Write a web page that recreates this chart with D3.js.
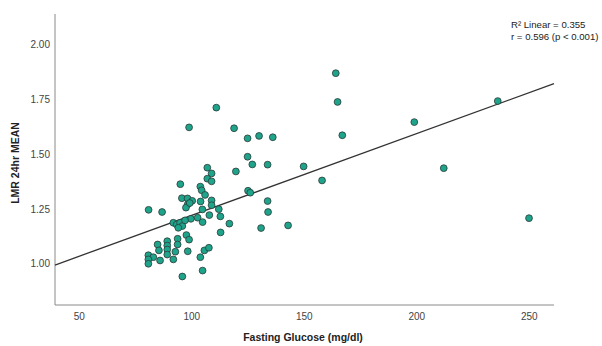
<!DOCTYPE html>
<html>
<head>
<meta charset="utf-8">
<script src="https://cdn.jsdelivr.net/npm/d3@7"></script>
<style>
  body { margin: 0; background: #fff; }
  text { font-family: "Liberation Sans", Arial, sans-serif; }
</style>
</head>
<body>
<div id="chart"></div>
<script>
// Fasting glucose (mg/dl) for each patient
const glucose = [
  110.9, 98.8, 118.8, 124.8, 129.9, 136.0, 124.8, 126.9, 133.7, 149.7,
  119.6, 106.9, 108.8, 106.9, 108.8, 94.9, 103.8, 104.4, 105.9, 125.0,
  126.0, 95.6, 98.1, 100.2, 103.9, 108.8, 98.2, 108.8, 97.4, 133.7,
  133.9, 112.0, 104.7, 80.8, 86.8, 107.8, 112.7, 99.6, 102.6, 104.8,
  116.7, 130.8, 142.8, 112.8, 97.6, 98.8, 98.2, 105.6, 107.6, 103.8,
  104.8, 95.8, 93.7, 93.7, 89.1, 89.1, 89.1, 89.1, 84.8, 85.4,
  92.7, 80.7, 82.9, 80.7, 80.7, 85.9, 91.8, 91.8, 93.3, 94.8,
  95.8, 94.0, 97.0, 164.0, 164.8, 166.9, 157.9, 198.9, 212.0, 236.0,
  249.9, 99.1
];

// LMR 24hr mean for the same patients
const lmr = [
  1.713, 1.623, 1.619, 1.573, 1.584, 1.578, 1.489, 1.454, 1.453, 1.445,
  1.422, 1.439, 1.413, 1.389, 1.377, 1.364, 1.353, 1.336, 1.315, 1.334,
  1.325, 1.300, 1.299, 1.288, 1.285, 1.290, 1.272, 1.268, 1.257, 1.287,
  1.237, 1.250, 1.249, 1.247, 1.237, 1.223, 1.217, 1.206, 1.211, 1.191,
  1.184, 1.164, 1.176, 1.144, 1.132, 1.111, 1.058, 1.062, 1.074, 1.031,
  0.970, 0.943, 1.115, 1.089, 1.104, 1.084, 1.066, 1.043, 1.089, 1.062,
  1.056, 1.040, 1.031, 1.021, 1.001, 1.016, 1.021, 1.188, 1.180, 1.188,
  1.173, 1.165, 1.199, 1.870, 1.739, 1.587, 1.381, 1.647, 1.437, 1.743,
  1.209, 1.278
];

// Axis ticks and the fitted line
const xTicks = [50, 100, 150, 200, 250];
const yTicks = [1.00, 1.25, 1.50, 1.75, 2.00];
const regIntercept = 0.849;
const regSlope = 0.00373;
const fitNotes = ["R\u00B2 Linear = 0.355", "r = 0.596 (p < 0.001)"];

const width = 602, height = 346;

const svg = d3.select("#chart")
  .append("svg")
  .attr("width", width)
  .attr("height", height);

// scales (the plot frame runs from x=55 to 554 and y=14 to 305)
const x = d3.scaleLinear().domain([39.2, 261]).range([55, 554]);
const y = d3.scaleLinear().domain([0.813, 2.14]).range([305, 14]);

// axis lines, no tick marks
svg.append("line")
  .attr("x1", x.range()[0]).attr("x2", x.range()[0])
  .attr("y1", y.range()[0]).attr("y2", y.range()[1])
  .attr("stroke", "#8a8a8a").attr("stroke-width", 1);

svg.append("line")
  .attr("x1", x.range()[0]).attr("x2", x.range()[1])
  .attr("y1", y.range()[0]).attr("y2", y.range()[0])
  .attr("stroke", "#8a8a8a").attr("stroke-width", 1);

// tick labels
svg.selectAll("text.xtick")
  .data(xTicks)
  .enter()
  .append("text")
  .attr("class", "xtick")
  .attr("x", d => x(d))
  .attr("y", 320)
  .attr("text-anchor", "middle")
  .style("font-size", "10px")
  .attr("fill", "#444")
  .text(d => d);

svg.selectAll("text.ytick")
  .data(yTicks)
  .enter()
  .append("text")
  .attr("class", "ytick")
  .attr("x", 50)
  .attr("y", d => y(d) + 3.5)
  .attr("text-anchor", "end")
  .style("font-size", "10px")
  .attr("fill", "#444")
  .text(d => d.toFixed(2));

// axis titles
svg.append("text")
  .attr("x", 303)
  .attr("y", 341)
  .attr("text-anchor", "middle")
  .style("font-size", "10.5px")
  .style("font-weight", "bold")
  .attr("fill", "#222")
  .text("Fasting Glucose (mg/dl)");

svg.append("text")
  .attr("transform", "translate(19,163) rotate(-90)")
  .attr("text-anchor", "middle")
  .style("font-size", "10.5px")
  .style("font-weight", "bold")
  .attr("fill", "#222")
  .text("LMR 24hr MEAN");

// regression line across the whole x range
const xd = x.domain();
svg.append("line")
  .attr("x1", x(xd[0])).attr("y1", y(regIntercept + regSlope * xd[0]))
  .attr("x2", x(xd[1])).attr("y2", y(regIntercept + regSlope * xd[1]))
  .attr("stroke", "#333")
  .attr("stroke-width", 1.3);

// the points
const points = glucose.map((g, i) => ({ g: g, v: lmr[i] }));
svg.selectAll("circle")
  .data(points)
  .enter()
  .append("circle")
  .attr("cx", d => x(d.g))
  .attr("cy", d => y(d.v))
  .attr("r", 3.4)
  .attr("fill", "#1fa48c")
  .attr("stroke", "#2b3a36")
  .attr("stroke-width", 0.8);

// fit notes, top right (kept just inside the right edge)
svg.selectAll("text.note")
  .data(fitNotes)
  .enter()
  .append("text")
  .attr("class", "note")
  .attr("x", 511)
  .attr("y", (d, i) => 28 + i * 11.5)
  .style("font-size", "9.6px")
  .attr("fill", "#222")
  .text(d => d);
</script>
</body>
</html>
